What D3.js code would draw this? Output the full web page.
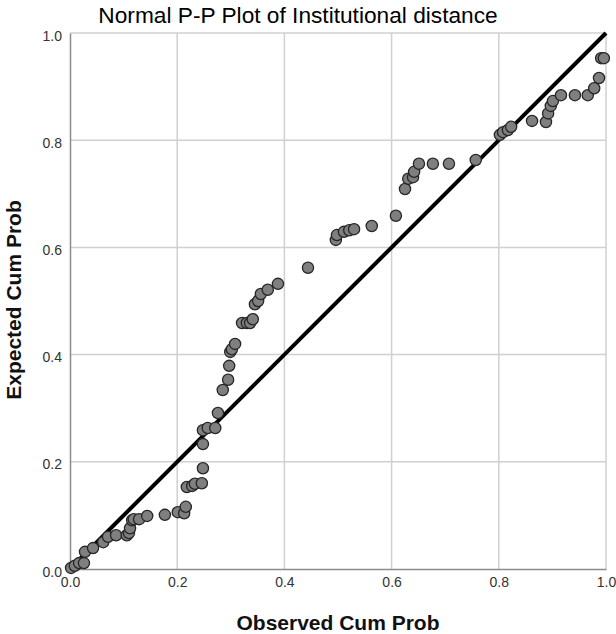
<!DOCTYPE html>
<html><head><meta charset="utf-8">
<script src="https://cdn.jsdelivr.net/npm/d3@7"></script>
<style>body{margin:0;background:#fff}svg{display:block}</style>
</head><body>
<svg id="c" width="616" height="634"></svg>
<script>
const titleText = "Normal P-P Plot of Institutional distance";
const xTitle = "Observed Cum Prob";
const yTitle = "Expected Cum Prob";
const tickValues = [0, 0.2, 0.4, 0.6, 0.8, 1.0];
const observed = [0.002,0.009,0.017,0.026,0.028,0.043,0.062,0.071,0.086,0.106,0.110,0.112,0.116,0.119,0.129,0.144,0.177,0.201,0.213,0.216,0.218,0.228,0.233,0.246,0.248,0.248,0.248,0.257,0.271,0.276,0.285,0.295,0.297,0.299,0.302,0.308,0.321,0.330,0.336,0.341,0.345,0.351,0.356,0.369,0.388,0.444,0.496,0.498,0.511,0.521,0.530,0.563,0.608,0.625,0.631,0.640,0.642,0.651,0.677,0.707,0.757,0.802,0.808,0.817,0.823,0.862,0.888,0.892,0.897,0.901,0.916,0.942,0.966,0.978,0.987,0.991,0.996];
const expected = [0.002,0.006,0.011,0.011,0.032,0.039,0.050,0.060,0.063,0.063,0.067,0.076,0.091,0.093,0.093,0.099,0.101,0.106,0.104,0.116,0.153,0.155,0.159,0.160,0.188,0.233,0.259,0.263,0.263,0.291,0.334,0.353,0.379,0.405,0.410,0.420,0.459,0.459,0.459,0.466,0.494,0.500,0.513,0.521,0.532,0.562,0.614,0.623,0.629,0.632,0.634,0.640,0.659,0.709,0.728,0.731,0.741,0.756,0.756,0.756,0.763,0.810,0.815,0.819,0.825,0.836,0.834,0.850,0.864,0.873,0.884,0.884,0.884,0.897,0.916,0.953,0.953];
const refLine = [[0,0],[1,1]];

const svg = d3.select("#c");
const L = 70, R = 606, T = 33, B = 569;
const x = d3.scaleLinear().domain([0,1]).range([L,R]);
const y = d3.scaleLinear().domain([0,1]).range([B,T]);
const fmt = d3.format(".1f");
const font = "'Liberation Sans', Arial, sans-serif";

svg.append("g").selectAll("line").data(tickValues.slice(1)).join("line")
  .attr("x1", d=>x(d)).attr("x2", d=>x(d)).attr("y1", T).attr("y2", B)
  .attr("stroke", "#d0d0d0").attr("stroke-width", 1.5);
svg.append("g").selectAll("line").data(tickValues.slice(1)).join("line")
  .attr("y1", d=>y(d)).attr("y2", d=>y(d)).attr("x1", L).attr("x2", R)
  .attr("stroke", "#d0d0d0").attr("stroke-width", 1.5);

const xAxis = svg.append("g").attr("transform", `translate(0,${B})`)
  .call(d3.axisBottom(x).tickValues(tickValues).tickFormat(fmt).tickSize(0).tickPadding(8));
const yAxis = svg.append("g").attr("transform", `translate(${L},0)`)
  .call(d3.axisLeft(y).tickValues(tickValues).tickFormat(fmt).tickSize(0).tickPadding(8));
[xAxis, yAxis].forEach(a => {
  a.select(".domain").attr("stroke", "#8c8c8c").attr("stroke-width", 1.5);
  a.selectAll("text").attr("font-family", font).attr("font-size", 14).attr("fill", "#333");
});
yAxis.selectAll("text").attr("dy", "0.5em");

svg.append("line")
  .attr("x1", x(refLine[0][0])).attr("y1", y(refLine[0][1]))
  .attr("x2", x(refLine[1][0])).attr("y2", y(refLine[1][1]))
  .attr("stroke", "#000").attr("stroke-width", 4);

svg.append("g").selectAll("circle").data(observed.map((o,i)=>[o, expected[i]])).join("circle")
  .attr("cx", d=>x(d[0])).attr("cy", d=>y(d[1])).attr("r", 5.6)
  .attr("fill", "#7f7f7f").attr("stroke", "#262626").attr("stroke-width", 1.3);

svg.append("text").attr("x", 298).attr("y", 23).attr("text-anchor", "middle")
  .attr("font-family", font).attr("font-size", 22.7).attr("fill", "#000").text(titleText);
svg.append("text").attr("x", 338).attr("y", 630).attr("text-anchor", "middle")
  .attr("font-family", font).attr("font-size", 21).attr("font-weight", "bold").attr("fill", "#111").text(xTitle);
svg.append("text").attr("transform", "translate(21,300) rotate(-90)").attr("text-anchor", "middle")
  .attr("font-family", font).attr("font-size", 21).attr("font-weight", "bold").attr("fill", "#111").text(yTitle);
</script>
</body></html>
